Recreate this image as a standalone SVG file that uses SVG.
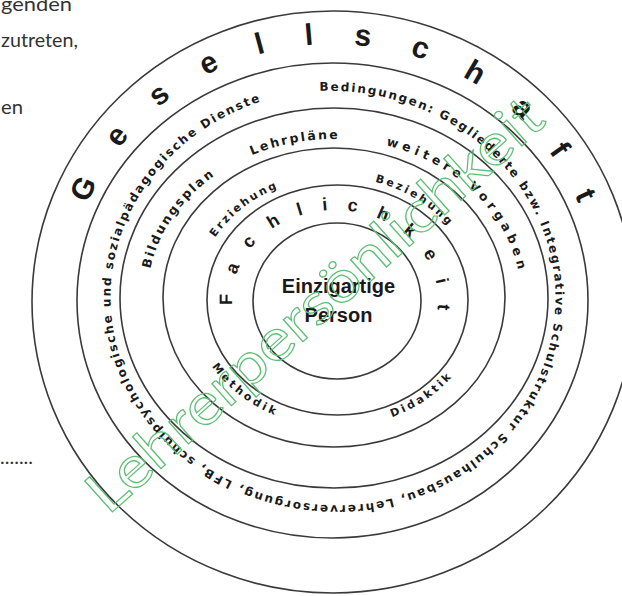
<svg xmlns="http://www.w3.org/2000/svg" xmlns:xlink="http://www.w3.org/1999/xlink" width="622" height="596" viewBox="0 0 622 596">
<style>
.ring{fill:none;stroke:#3a3a3a;stroke-width:1.6}
.rt{font-family:"DejaVu Sans","Liberation Sans",sans-serif;font-weight:bold;fill:#1a1a1a}
.big{font-family:"Liberation Sans","DejaVu Sans",sans-serif;font-weight:bold;fill:#1a1a1a}
.page{font-family:Lato,"Open Sans",sans-serif;font-weight:normal;font-size:20px;fill:#333}
.wm{font-family:Lato,"Open Sans",sans-serif;font-size:58px;fill:none;stroke:#5cbf74;stroke-width:1.2}
</style>
<defs>
<path id="p1" d="M333,556 A265,256 0 0 1 333,44 A265,256 0 0 1 333,556"/>
<path id="p2" d="M293.6,93.2 A227,208 0 0 1 372.4,502.8 A227,208 0 0 1 293.6,93.2"/>
<path id="p3" d="M334,457 A187,159 0 0 1 334,139 A187,159 0 0 1 334,457"/>
<path id="p4" d="M336,421 A140,122 0 0 1 336,177 A140,122 0 0 1 336,421"/>
<path id="p4b" d="M336,171 A146,128 0 0 0 336,427 A146,128 0 0 0 336,171"/>
<path id="p5" d="M335,390 A103,90 0 0 1 335,210 A103,90 0 0 1 335,390"/>
</defs>
<rect width="622" height="596" fill="#fff"/>
<g id="page-text">
<text class="page" x="1" y="11" textLength="71" lengthAdjust="spacingAndGlyphs">genden</text>
<text class="page" x="1" y="47" textLength="77" lengthAdjust="spacingAndGlyphs">zutreten,</text>
<text class="page" x="1" y="114" textLength="22" lengthAdjust="spacingAndGlyphs">en</text>
<text class="page" x="0" y="464" font-size="16">.......</text>
</g>
<g id="rings">
<ellipse class="ring" cx="333" cy="302" rx="301" ry="291"/>
<ellipse class="ring" cx="332.5" cy="300.5" rx="255.5" ry="237.5"/>
<ellipse class="ring" cx="334" cy="298" rx="214" ry="190"/>
<ellipse class="ring" cx="334" cy="297.5" rx="171" ry="149.5"/>
<ellipse class="ring" cx="337.5" cy="300" rx="130.5" ry="115"/>
<ellipse class="ring" cx="337" cy="301" rx="84" ry="78"/>
</g>
<g id="ring1-gesellschaft">
<text class="big" font-size="30"><textPath xlink:href="#p1" href="#p1" startOffset="50%" text-anchor="middle" textLength="620" lengthAdjust="spacing">Gesellschaft</textPath></text>
</g>
<g id="ring2-bedingungen">
<text class="rt" font-size="12"><textPath xlink:href="#p2" href="#p2" startOffset="26" textLength="1288" lengthAdjust="spacing">Bedingungen: Gegliederte bzw. Integrative Schulstruktur Schulhausbau, Lehrerversorgung, LFB, schulpsychologische und sozialpädagogische Dienste</textPath></text>
</g>
<g id="ring3">
<text class="rt" font-size="12.5"><textPath xlink:href="#p3" href="#p3" startOffset="46.3%" text-anchor="middle" textLength="88" lengthAdjust="spacing">Lehrpläne</textPath></text>
<text class="rt" font-size="12.5"><textPath xlink:href="#p3" href="#p3" startOffset="63.6%" text-anchor="middle" textLength="191" lengthAdjust="spacing">weitere Vorgaben</textPath></text>
<text class="rt" font-size="12.5"><textPath xlink:href="#p3" href="#p3" startOffset="33%" text-anchor="middle" textLength="115" lengthAdjust="spacing">Bildungsplan</textPath></text>
</g>
<g id="ring4">
<text class="rt" font-size="11"><textPath xlink:href="#p4" href="#p4" startOffset="37.8%" text-anchor="middle" textLength="80" lengthAdjust="spacing">Erziehung</textPath></text>
<text class="rt" font-size="11"><textPath xlink:href="#p4" href="#p4" startOffset="60%" text-anchor="middle" textLength="86" lengthAdjust="spacing">Beziehung</textPath></text>
<text class="rt" font-size="11"><textPath xlink:href="#p4b" href="#p4b" startOffset="38%" text-anchor="middle" textLength="80" lengthAdjust="spacing">Methodik</textPath></text>
<text class="rt" font-size="11"><textPath xlink:href="#p4b" href="#p4b" startOffset="60.8%" text-anchor="middle" textLength="72" lengthAdjust="spacing">Didaktik</textPath></text>
</g>
<g id="ring5-fachlichkeit">
<text class="big" font-size="18"><textPath xlink:href="#p5" href="#p5" startOffset="50.4%" text-anchor="middle" textLength="318" lengthAdjust="spacing">Fachlichkeit</textPath></text>
</g>
<g id="center">
<text class="big" font-size="20" x="338.5" y="293" text-anchor="middle">Einzigartige</text>
<text class="big" font-size="20" x="338.5" y="322" text-anchor="middle">Person</text>
</g>
<g id="watermark">
<text class="wm" transform="translate(108,516) rotate(-41.8)" x="0" y="0" textLength="590" lengthAdjust="spacingAndGlyphs">Lehrerpersönlichkeit</text>
</g>
</svg>
